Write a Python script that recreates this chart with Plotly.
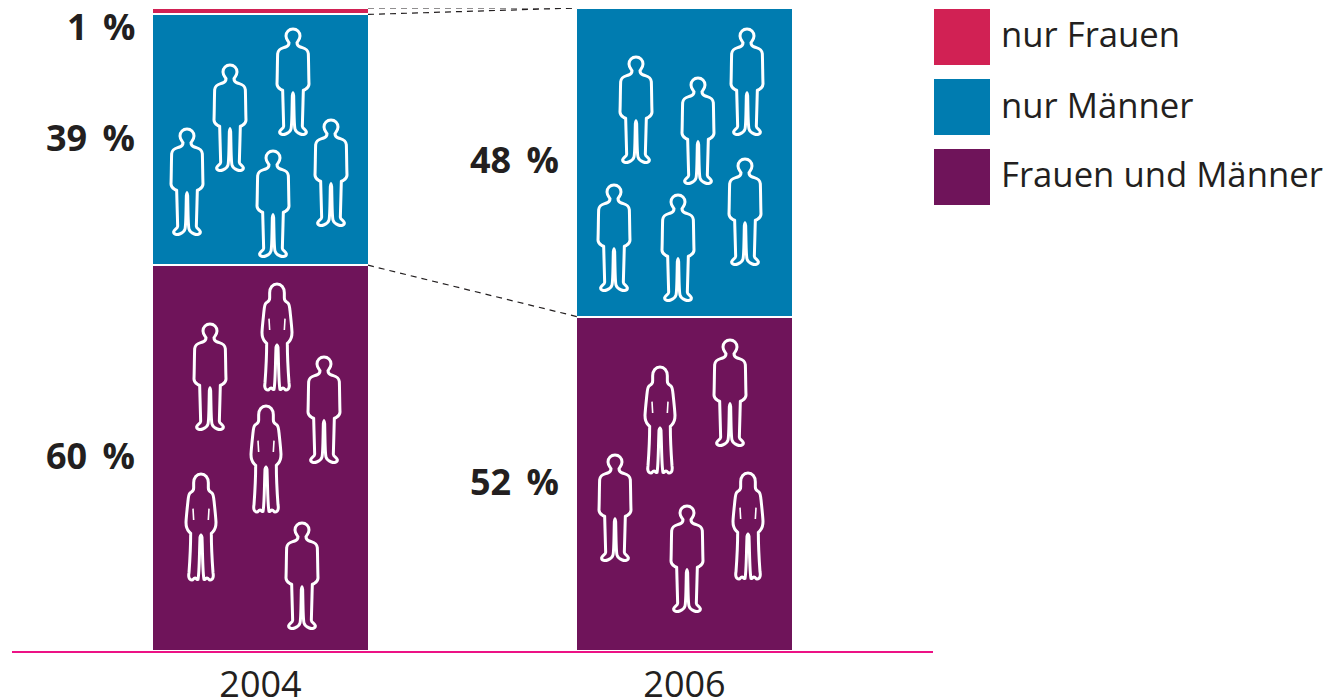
import plotly.graph_objects as go

# ---- data ----
years = ["2004", "2006"]
nur_frauen = [1, None]
nur_maenner = [39, 48]
frauen_und_maenner = [60, 52]
series_names = ["nur Frauen", "nur Männer", "Frauen und Männer"]
colors = ["#D12154", "#007CB0", "#6F145A"]

# ---- layout constants (pixels) ----
W, H = 1344, 700
L, R, T, B = 12, 933, 8, 651
FONT = "Open Sans"
TXT = "#231F20"
unit = 424.0
x_pos = [0, 1]
left = -(260.5 - L) / unit
right = 1 + (R - 684.5) / unit
bar_w = 217 / unit
edge = 215 / unit / 2


def px(x):
    return (x - L) / (R - L)


def py(y):
    return 1 - (y - T) / (B - T)


MAN = [
    ((12, 0), (21, 9), (21, 21)),
    ((21, 31), (14, 36), (12, 41)),
    ((12, 47), (16, 52), (22, 54)),
    ((32, 58), (44, 58), (46, 74)),
    ((47, 100), (47, 140), (48, 165)),
    ((48, 175), (42, 178), (36, 182)),
    ((34, 183), (32, 183), (31, 184)),
    ((30, 220), (29, 260), (28, 292)),
    ((28, 298), (38, 302), (40, 308)),
    ((41, 316), (30, 318), (22, 315)),
    ((14, 312), (8, 308), (6, 300)),
    ((3, 290), (3, 240), (2, 200)),
    ((1, 193), (0, 192), (0, 192)),
]
WOMAN = [
    ((13, 0), (22, 11), (22, 26)),
    ((22, 32), (22, 37), (22, 42)),
    ((22, 50), (25, 52), (30, 55)),
    ((38, 58), (37, 66), (39, 80)),
    ((41, 100), (44, 125), (45, 145)),
    ((45, 160), (41, 168), (36, 173)),
    ((34, 175), (32, 177), (31, 178)),
    ((31, 215), (33, 255), (36, 296)),
    ((38, 306), (37, 318), (27, 318)),
    ((23, 318), (23, 312), (18, 312)),
    ((14, 312), (14, 318), (9, 316)),
    ((5, 300), (5, 240), (3, 190)),
    ((2, 184), (0, 183), (0, 183)),
]


def outline(segs, cx, top):
    s = 1 / 3
    X = lambda v: px(cx + v * s)
    Y = lambda v: py(top + v * s)
    d = f"M{X(0):.5f},{Y(0):.5f}"
    for c1, c2, p in segs:
        d += (f" C{X(c1[0]):.5f},{Y(c1[1]):.5f} {X(c2[0]):.5f},{Y(c2[1]):.5f}"
              f" {X(p[0]):.5f},{Y(p[1]):.5f}")
    pts = [(0, 0)]
    for c1, c2, p in segs:
        pts.extend([c1, c2, p])
    pts = pts[::-1]
    for i in range(1, len(pts), 3):
        c1, c2, p = pts[i], pts[i + 1], pts[i + 2]
        d += (f" C{X(-c1[0]):.5f},{Y(c1[1]):.5f} {X(-c2[0]):.5f},{Y(c2[1]):.5f}"
              f" {X(-p[0]):.5f},{Y(p[1]):.5f}")
    return d + " Z"


def slits(cx, top):
    s = 1 / 3
    d = ""
    for sign in (-1, 1):
        d += (f"M{px(cx + sign * 24 * s):.5f},{py(top + 104 * s):.5f} "
              f"L{px(cx + sign * 22 * s):.5f},{py(top + 138 * s):.5f} ")
    return d


men_2004 = [(293, 29), (230, 65), (187, 129), (273, 151), (331, 120),
            (210, 324), (324, 357), (302, 523)]
women_2004 = [(277, 284), (266, 406), (201, 474)]
men_2006 = [(636, 57), (698, 78), (747, 29), (745, 159), (614, 185), (678, 195),
            (730, 340), (615, 455), (687, 506)]
women_2006 = [(660, 367), (748, 473)]

shapes = []
line = dict(color="white", width=3)
for cx, top in men_2004 + men_2006:
    shapes.append(dict(type="path", xref="paper", yref="paper", path=outline(MAN, cx, top),
                       line=line, layer="above"))
for cx, top in women_2004 + women_2006:
    shapes.append(dict(type="path", xref="paper", yref="paper", path=outline(WOMAN, cx, top),
                       line=line, layer="above"))
    shapes.append(dict(type="path", xref="paper", yref="paper", path=slits(cx, top),
                       line=dict(color="white", width=1.6), layer="above"))

annotations = []
legend_tops = [9, 79, 149]
for name, col, top in zip(series_names, colors, legend_tops):
    shapes.append(dict(type="rect", xref="paper", yref="paper", x0=px(934), x1=px(990),
                       y0=py(top), y1=py(top + 56), fillcolor=col, line=dict(width=0)))
    annotations.append(dict(text=name, xref="paper", yref="paper", x=px(999), y=py(top + 25),
                            xanchor="left", yanchor="middle", showarrow=False,
                            font=dict(family=FONT, size=34.7, color=TXT)))

labels = [
    (nur_frauen[0], 137, 26), (nur_maenner[0], 137, 137), (frauen_und_maenner[0], 137, 455),
    (nur_maenner[1], 561, 159), (frauen_und_maenner[1], 561, 481),
]
for v, xr, yc in labels:
    annotations.append(dict(text=f"<b>{v}\u2009\u00a0%</b>", xref="paper", yref="paper",
                            x=px(xr), y=py(yc),
                            xanchor="right", yanchor="middle", showarrow=False,
                            font=dict(family=FONT, size=36, color=TXT)))

fig = go.Figure()
for vals, name, col in zip([frauen_und_maenner, nur_maenner, nur_frauen],
                           series_names[::-1], colors[::-1]):
    fig.add_trace(go.Bar(x=x_pos, y=vals, name=name, width=bar_w, showlegend=False,
                         marker=dict(color=col, line=dict(color="white", width=2))))

# connector lines between the bars
boundary = [(100, 100), (100 - nur_frauen[0], 100),
            (frauen_und_maenner[0], frauen_und_maenner[1])]
for a, b in boundary:
    fig.add_trace(go.Scatter(x=[x_pos[0] + edge, x_pos[1] - edge], y=[a, b], mode="lines",
                             showlegend=False, hoverinfo="skip",
                             line=dict(color="#231F20", width=1.2, dash="6px,5px")))

fig.update_layout(
    width=W, height=H, barmode="stack", bargap=0,
    paper_bgcolor="white", plot_bgcolor="white", showlegend=False,
    margin=dict(l=L, r=W - R, t=T, b=H - B, pad=0, autoexpand=False),
    font=dict(family=FONT, color=TXT),
    xaxis=dict(range=[left, right], tickmode="array", tickvals=x_pos, ticktext=years,
               showgrid=False, zeroline=False, showline=True, linecolor="#EC1285", linewidth=2.4,
               ticks="", ticklabelstandoff=1, tickfont=dict(family=FONT, size=36, color=TXT)),
    yaxis=dict(range=[0, 100], visible=False, showgrid=False, zeroline=False),
    shapes=shapes, annotations=annotations,
)

fig.write_html("out.html", config=dict(displayModeBar=False),
               post_script="document.body.style.margin='0';document.body.style.overflow='hidden';")
